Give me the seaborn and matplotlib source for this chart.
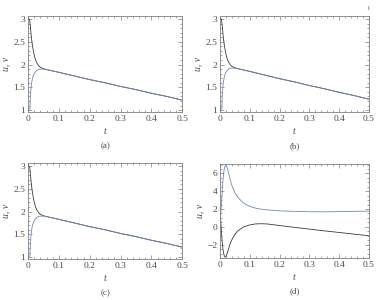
import numpy as np
import pandas as pd
import matplotlib
matplotlib.use("Agg")
import matplotlib.pyplot as plt
from matplotlib.ticker import MultipleLocator
import seaborn as sns

sns.set_theme(style="ticks")
plt.rcParams['font.family'] = ['Liberation Serif', 'DejaVu Serif']

# panels (a), (b), (c): u (black) falls from 3, v (blue) rises from 1, then they merge
t_u_abc = [0.005, 0.0075, 0.01, 0.0125, 0.015, 0.02, 0.025, 0.03, 0.035, 0.04, 0.05, 0.06,
           0.1, 0.15, 0.2, 0.25, 0.3, 0.35, 0.4, 0.45, 0.5]
u_a = [3.0, 2.85, 2.66, 2.51, 2.39, 2.21, 2.09, 2.02, 1.97, 1.94, 1.91, 1.89,
       1.83, 1.75, 1.67, 1.60, 1.52, 1.45, 1.37, 1.30, 1.22]
t_v_abc = [0.006, 0.007, 0.008, 0.01, 0.0125, 0.015, 0.02, 0.025, 0.03, 0.035, 0.04, 0.05, 0.06,
           0.1, 0.15, 0.2, 0.25, 0.3, 0.35, 0.4, 0.45, 0.5]
v_a = [1.0, 1.18, 1.32, 1.50, 1.63, 1.71, 1.80, 1.85, 1.88, 1.895, 1.90, 1.90, 1.89,
       1.83, 1.75, 1.67, 1.60, 1.52, 1.45, 1.37, 1.30, 1.22]

u_b = [3.0, 2.86, 2.68, 2.53, 2.41, 2.23, 2.11, 2.04, 1.99, 1.96, 1.93, 1.91,
       1.85, 1.77, 1.69, 1.62, 1.54, 1.47, 1.39, 1.32, 1.24]
v_b = [1.0, 1.2, 1.35, 1.53, 1.66, 1.74, 1.83, 1.88, 1.91, 1.92, 1.925, 1.92, 1.91,
       1.85, 1.77, 1.69, 1.62, 1.54, 1.47, 1.39, 1.32, 1.24]

u_c = u_a
v_c = v_a

# panel (d): oscillating start
t_d = [0.002, 0.005, 0.0075, 0.01, 0.0125, 0.015, 0.0175, 0.02, 0.0225, 0.025, 0.03, 0.035,
       0.04, 0.05, 0.06, 0.08, 0.1, 0.12, 0.14, 0.16, 0.2, 0.25, 0.3, 0.35, 0.4, 0.45, 0.5]
v_d = [1.0, 2.6, 4.0, 5.2, 6.1, 6.6, 6.85, 6.9, 6.8, 6.55, 5.9, 5.2,
       4.65, 3.85, 3.3, 2.65, 2.3, 2.1, 1.98, 1.9, 1.8, 1.74, 1.7, 1.69, 1.71, 1.74, 1.77]
u_d = [1.0, -0.6, -1.7, -2.5, -3.0, -3.3, -3.4, -3.35, -3.15, -2.9, -2.35, -1.85,
       -1.45, -0.85, -0.45, 0.0, 0.22, 0.33, 0.35, 0.32, 0.15, -0.06, -0.25, -0.45, -0.63, -0.82, -1.0]

x_ticks = [0, 0.1, 0.2, 0.3, 0.4, 0.5]
x_ticklabels = ["0", "0.1", "0.2", "0.3", "0.4", "0.5"]
y_ticks_abc = [1, 1.5, 2, 2.5, 3]
y_ticklabels_abc = ["1", "1.5", "2", "2.5", "3"]
y_ticks_d = [-2, 0, 2, 4, 6]
y_ticklabels_d = ["\u22122", "0", "2", "4", "6"]
panel_labels = ["(a)", "(b)", "(c)", "(d)"]

black = "#3a3a3a"
blue = "#7485c2"
frame = "#808080"
txt = "#4a4a4a"

positions = [
    [0.0745, 0.627, 0.410, 0.320],
    [0.585, 0.627, 0.396, 0.320],
    [0.0745, 0.137, 0.410, 0.320],
    [0.585, 0.140, 0.396, 0.313],
]

fig = plt.figure(figsize=(3.76, 3.0), dpi=100)

series = [
    (t_u_abc, u_a, t_v_abc, v_a),
    (t_u_abc, u_b, t_v_abc, v_b),
    (t_u_abc, u_c, t_v_abc, v_c),
    (t_d, u_d, t_d, v_d),
]

for i, (tu, u, tv, v) in enumerate(series):
    ax = fig.add_axes(positions[i])
    df_u = pd.DataFrame({"t": tu, "val": u})
    df_v = pd.DataFrame({"t": tv, "val": v})
    sns.lineplot(data=df_u, x="t", y="val", ax=ax, color=black, lw=0.6, estimator=None)
    sns.lineplot(data=df_v, x="t", y="val", ax=ax, color=blue, lw=0.6, estimator=None)
    ax.set_xlim(0, 0.5)
    ax.set_xticks(x_ticks)
    ax.set_xticklabels(x_ticklabels, fontsize=6.8)
    ax.xaxis.set_minor_locator(MultipleLocator(0.02))
    if i < 3:
        ax.set_ylim(0.96, 3.07)
        ax.set_yticks(y_ticks_abc)
        ax.set_yticklabels(y_ticklabels_abc, fontsize=6.8)
        ax.yaxis.set_minor_locator(MultipleLocator(0.1))
    else:
        ax.set_ylim(-3.5, 7.05)
        ax.set_yticks(y_ticks_d)
        ax.set_yticklabels(y_ticklabels_d, fontsize=6.8)
        ax.yaxis.set_minor_locator(MultipleLocator(0.5))
    ax.tick_params(which="both", direction="in", top=True, right=True,
                   color=frame, width=0.5, labelcolor=txt, pad=2)
    ax.tick_params(which="major", length=3)
    ax.tick_params(which="minor", length=1.5)
    for s in ax.spines.values():
        s.set_color(frame)
        s.set_linewidth(0.6)
    ax.set_xlabel("t", fontsize=7, style="italic", color=txt, labelpad=3)
    ax.set_ylabel("u, v", fontsize=7, style="italic", color=txt, labelpad=2)
    ax.text(0.5, -0.355, panel_labels[i], transform=ax.transAxes, ha="center", va="center",
            fontsize=6.5, color=txt)

fig.text(0.979, 0.97, "1", fontsize=5, color="#666666", ha="center", va="center")

fig.savefig("out.png", dpi=100)
